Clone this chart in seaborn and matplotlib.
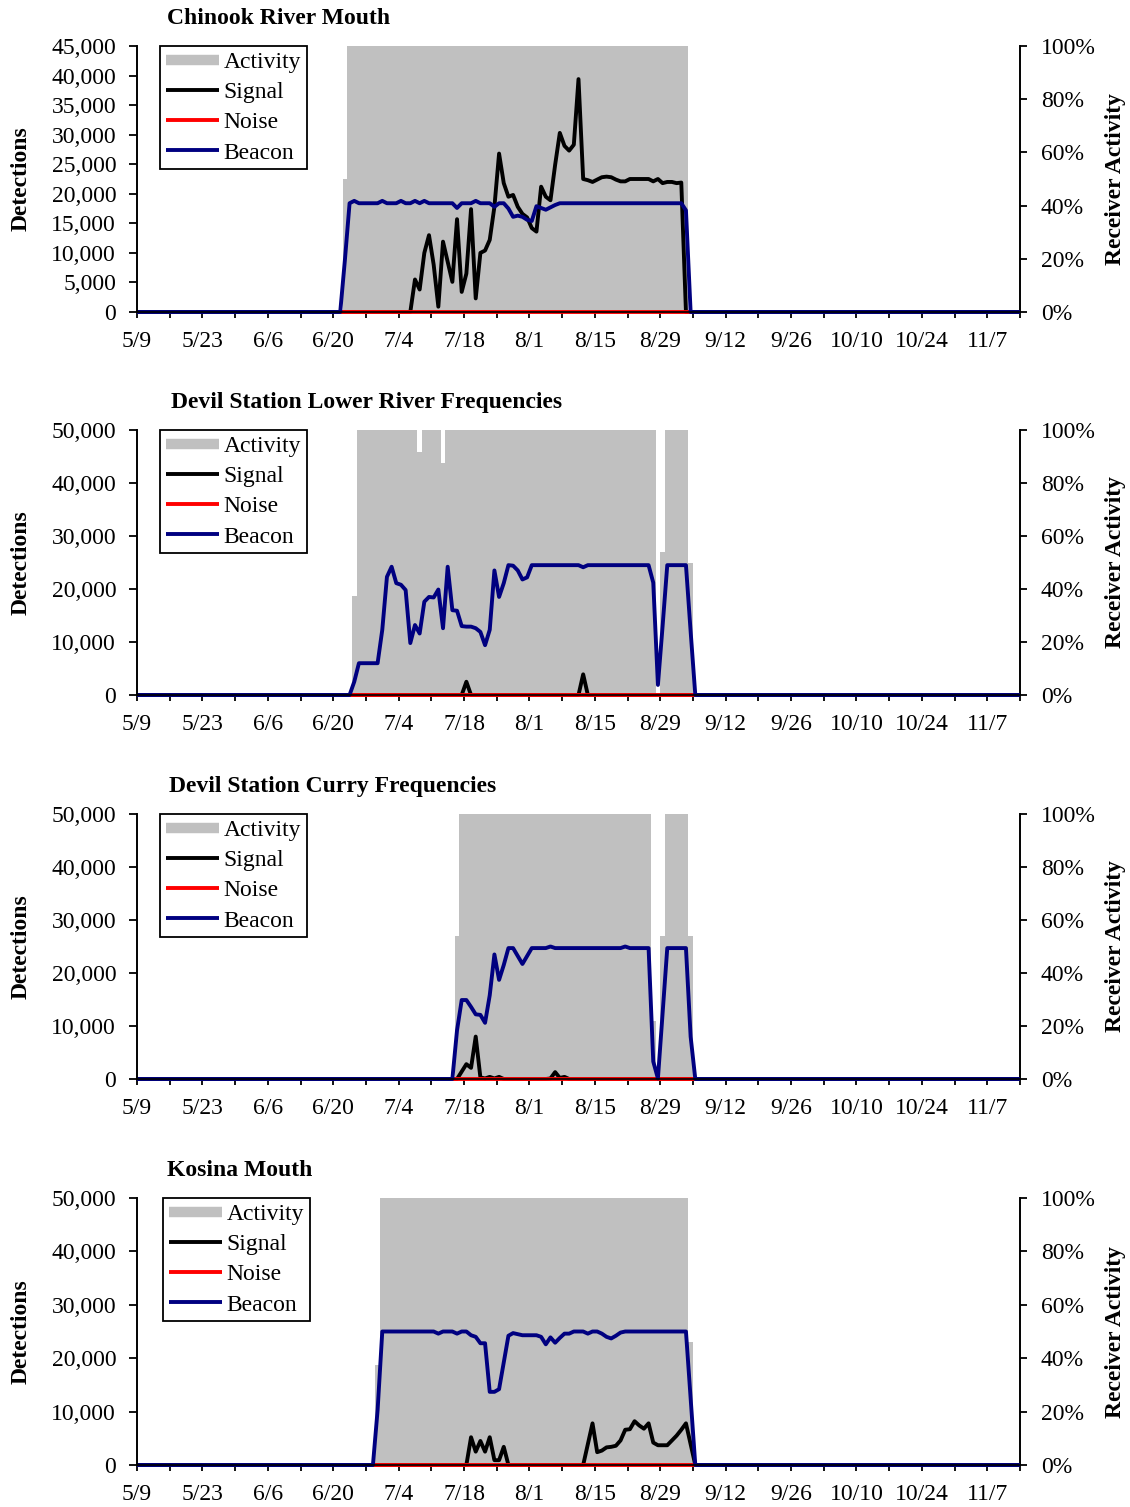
import numpy as np
import pandas as pd
import matplotlib
matplotlib.use("Agg")
import matplotlib.pyplot as plt
from matplotlib.lines import Line2D
from matplotlib.ticker import FuncFormatter, PercentFormatter
from matplotlib.transforms import Bbox, TransformedBbox
import seaborn as sns

# ---------------- data (day 0 = 5/9) ----------------
tick_labels = ["5/9", "5/23", "6/6", "6/20", "7/4", "7/18", "8/1", "8/15",
               "8/29", "9/12", "9/26", "10/10", "10/24", "11/7"]
series_labels = ["Activity", "Signal", "Noise", "Beacon"]
titles = ["Chinook River Mouth", "Devil Station Lower River Frequencies",
          "Devil Station Curry Frequencies", "Kosina Mouth"]
y_max = [45000, 50000, 50000, 50000]
y_step = [5000, 10000, 10000, 10000]

# Panel 1 - Chinook River Mouth
p1_activity_start = 44
p1_activity = [0.50] + [1.00] * 73
p1_signal_start = 58
p1_signal = [0, 5500, 3800, 10000, 13000, 8000, 900, 11900, 8500, 5100,
             15700, 3400, 6500, 17400, 2300, 10000, 10400, 12200, 17800, 26800,
             21800, 19500, 19800, 17800, 16600, 16000, 14200, 13600, 21200, 19500,
             18900, 24900, 30300, 28100, 27300, 28300, 39400, 22500, 22300, 22000,
             22400, 22800, 22900, 22800, 22400, 22100, 22100, 22500, 22500, 22500,
             22500, 22500, 22100, 22500, 21800, 22000, 22000, 21800, 21900, 0]
p1_noise_start = 43
p1_noise = [0] * 76
p1_beacon_start = 43
p1_beacon = ([0, 8800, 18400, 18800, 18400, 18400, 18400, 18400, 18400, 18800,
              18400, 18400, 18400, 18800, 18400, 18400, 18800, 18400, 18800, 18400,
              18400, 18400, 18400, 18400, 18400, 17600, 18400, 18400, 18400, 18800,
              18400, 18400, 18400, 17800, 18400, 18400, 17500, 16100, 16300, 16100,
              15600, 15400, 17900, 17600, 17300, 17700, 18100]
             + [18400] * 27 + [17200, 0])

# Panel 2 - Devil Station Lower River Frequencies
p2_activity_start = 46
p2_activity = ([0.375] + [1.00] * 13 + [0.917] + [1.00] * 4 + [0.875]
               + [1.00] * 45 + [0.00, 0.54] + [1.00] * 5 + [0.50])
p2_signal_start = 69
p2_signal = [0, 2500] + [0] * 24 + [3900, 0]
p2_noise_start = 45
p2_noise = [0] * 75
p2_beacon_start = 45
p2_beacon = ([0, 2500, 6000, 6000, 6000, 6000, 6000, 12300, 22300, 24200,
              21100, 20800, 19800, 9800, 13200, 11600, 17600, 18500, 18400, 19900,
              12600, 24200, 16000, 15900, 13000, 12900, 12900, 12600, 11900, 9400,
              12300, 23500, 18500, 21100, 24500, 24400, 23500, 21800, 22200, 24500]
             + [24500] * 10 + [24100] + [24500] * 14 + [21200, 1900, 13000]
             + [24500] * 5 + [12000, 0])

# Panel 3 - Devil Station Curry Frequencies
p3_activity_start = 68
p3_activity = [0.54] + [1.00] * 41 + [0.22, 0.00, 0.54] + [1.00] * 5 + [0.54]
p3_signal_start = 68
p3_signal = ([0, 1400, 2800, 2100, 8000, 300, 100, 400, 100, 400, 0]
             + [0] * 9 + [100, 1300, 200, 400, 0])
p3_noise_start = 67
p3_noise = [0] * 53
p3_beacon_start = 67
p3_beacon = ([0, 9200, 14900, 14900, 13600, 12200, 12100, 10600, 15800, 23500,
              18700, 21500, 24700, 24700, 23200, 21700, 23200, 24700]
             + [24700] * 3 + [25000] + [24700] * 15 + [25000] + [24700] * 5
             + [3300, 100, 12400] + [24700] * 5 + [8000, 0])

# Panel 4 - Kosina Mouth
p4_activity_start = 51
p4_activity = [0.375] + [1.00] * 66 + [0.46]
p4_signal_start = 70
p4_signal = ([0, 5200, 2500, 4500, 2500, 5200, 900, 900, 3400, 0]
             + [0] * 15
             + [0, 3900, 7800, 2400, 2700, 3300, 3400, 3600, 4600, 6600,
                6700, 8200, 7400, 6800, 7800, 4200, 3700, 3700, 3700, 4600,
                5500, 6600, 7800, 3900, 0])
p4_noise_start = 50
p4_noise = [0] * 70
p4_beacon_start = 50
p4_beacon = ([0, 10300] + [25000] * 12
             + [24600, 25000, 25000, 25000, 24600, 25000, 25000, 24300, 24000, 22800,
                22800, 13700, 13700, 14200, 19200, 24200, 24700, 24500, 24300, 24300,
                24300, 24300, 24000, 22600, 23900, 22900, 23800, 24600, 24600, 25000,
                25000, 25000, 24600, 25000, 25000, 24600, 24000, 23700, 24200, 24800]
             + [25000] * 14 + [12500, 0])

panels = [
    (p1_activity_start, p1_activity, p1_signal_start, p1_signal,
     p1_noise_start, p1_noise, p1_beacon_start, p1_beacon),
    (p2_activity_start, p2_activity, p2_signal_start, p2_signal,
     p2_noise_start, p2_noise, p2_beacon_start, p2_beacon),
    (p3_activity_start, p3_activity, p3_signal_start, p3_signal,
     p3_noise_start, p3_noise, p3_beacon_start, p3_beacon),
    (p4_activity_start, p4_activity, p4_signal_start, p4_signal,
     p4_noise_start, p4_noise, p4_beacon_start, p4_beacon),
]

# ---------------- style ----------------
sns.set_style("ticks", rc={"axes.edgecolor": "black", "text.color": "black",
                           "axes.labelcolor": "black", "xtick.color": "black",
                           "ytick.color": "black"})
plt.rcParams["font.family"] = ["Liberation Serif", "DejaVu Serif"]
plt.rcParams["font.size"] = 17

GRAY = "#C0C0C0"
NAVY = "#000080"
RED = "#FF0000"
LW = 2.8
FS = 17

DAYS = np.arange(-1, 191)


def expand(start, values, fill):
    arr = np.full(DAYS.size, fill, dtype=float)
    i = start - DAYS[0]
    arr[i:i + len(values)] = values
    return arr


W, H = 1130, 1507
fig = plt.figure(figsize=(W / 100, H / 100), dpi=100)

axes_px = [(46, 312), (430, 695), (814, 1079), (1198, 1465)]
legend_left_px = [160, 160, 160, 163]
title_x_px = [167, 171, 169, 167]
AX_L, AX_R = 137, 1020

for k, (a_s, act, s_s, sig, n_s, noi, b_s, bea) in enumerate(panels):
    top, bot = axes_px[k]
    ax = fig.add_axes([AX_L / W, 1 - bot / H, (AX_R - AX_L) / W, (bot - top) / H])
    ax2 = ax.twinx()

    # activity bars on the right axis
    activity = expand(a_s, act, 0.0)
    ax2.bar(DAYS, activity, width=1.0, align="edge", color=GRAY,
            linewidth=0, antialiased=False)

    df = pd.DataFrame({
        "x": DAYS + 0.5,
        "Signal": expand(s_s, sig, 0.0),
        "Noise": expand(n_s, noi, np.nan),
        "Beacon": expand(b_s, bea, 0.0),
    })
    sns.lineplot(data=df, x="x", y="Signal", color="black", linewidth=LW, ax=ax)
    sns.lineplot(data=df.dropna(subset=["Noise"]), x="x", y="Noise", color=RED,
                 linewidth=LW, ax=ax)
    sns.lineplot(data=df, x="x", y="Beacon", color=NAVY, linewidth=LW, ax=ax)
    clip = TransformedBbox(Bbox([[0, -0.03], [1, 1.0]]), ax.transAxes)
    for ln in ax.lines:
        ln.set_clip_box(clip)

    ax.set_zorder(ax2.get_zorder() + 1)
    ax.patch.set_visible(False)

    # axes limits / ticks
    ax.set_xlim(0, 189)
    ax.set_xticks(range(0, 183, 14))
    ax.set_xticklabels(tick_labels)
    ax.set_xticks(range(7, 190, 14), minor=True)
    ax.tick_params(axis="x", which="both", direction="out", length=4, width=1.3,
                   pad=10, labelsize=FS)
    ax.set_xlabel("")

    ax.set_ylim(0, y_max[k])
    ax.set_yticks(np.arange(0, y_max[k] + 1, y_step[k]))
    ax.yaxis.set_major_formatter(FuncFormatter(lambda v, p: f"{int(v):,}"))
    ax.tick_params(axis="y", direction="out", length=6, width=1.3, pad=9,
                   labelsize=FS, left=True, right=False)
    ax2.set_ylim(0, 1)
    ax2.set_yticks(np.arange(0, 1.01, 0.2))
    ax2.yaxis.set_major_formatter(PercentFormatter(1.0, decimals=0))
    ax2.tick_params(axis="y", direction="out", length=5, width=1.3, pad=10,
                    labelsize=FS, right=True, left=False)

    for a in (ax, ax2):
        a.spines["top"].set_visible(False)
    ax.spines["right"].set_visible(False)
    ax2.spines["left"].set_visible(False)
    ax2.spines["bottom"].set_visible(False)
    ax.spines["left"].set_linewidth(1.4)
    ax.spines["bottom"].set_linewidth(1.2)
    ax2.spines["right"].set_linewidth(1.4)

    ax.set_ylabel("Detections", fontsize=FS, fontweight="bold", va="center")
    ax.yaxis.set_label_coords((21 - AX_L) / (AX_R - AX_L), 0.5)
    ax2.set_ylabel("Receiver Activity", fontsize=FS, fontweight="bold",
                   rotation=90, va="center")
    ax2.yaxis.set_label_coords((1115 - AX_L) / (AX_R - AX_L), 0.5)

    fig.text(title_x_px[k] / W, 1 - (top - 22) / H, titles[k], ha="left",
             va="baseline", fontsize=FS, fontweight="bold")

    handles = [Line2D([], [], color=GRAY, lw=7.5, solid_capstyle="butt"),
               Line2D([], [], color="black", lw=LW, solid_capstyle="butt"),
               Line2D([], [], color=RED, lw=LW, solid_capstyle="butt"),
               Line2D([], [], color=NAVY, lw=LW, solid_capstyle="butt")]
    leg = ax.legend(handles, series_labels, loc="upper left",
                    bbox_to_anchor=((legend_left_px[k] - AX_L) / (AX_R - AX_L), 1.0),
                    frameon=True, fancybox=False, edgecolor="black", framealpha=1,
                    fontsize=FS, handlelength=2.25, handletextpad=0.2,
                    labelspacing=0.36, borderpad=0.25, borderaxespad=0)
    leg.get_frame().set_linewidth(1.3)

fig.savefig("out.png", dpi=100)
